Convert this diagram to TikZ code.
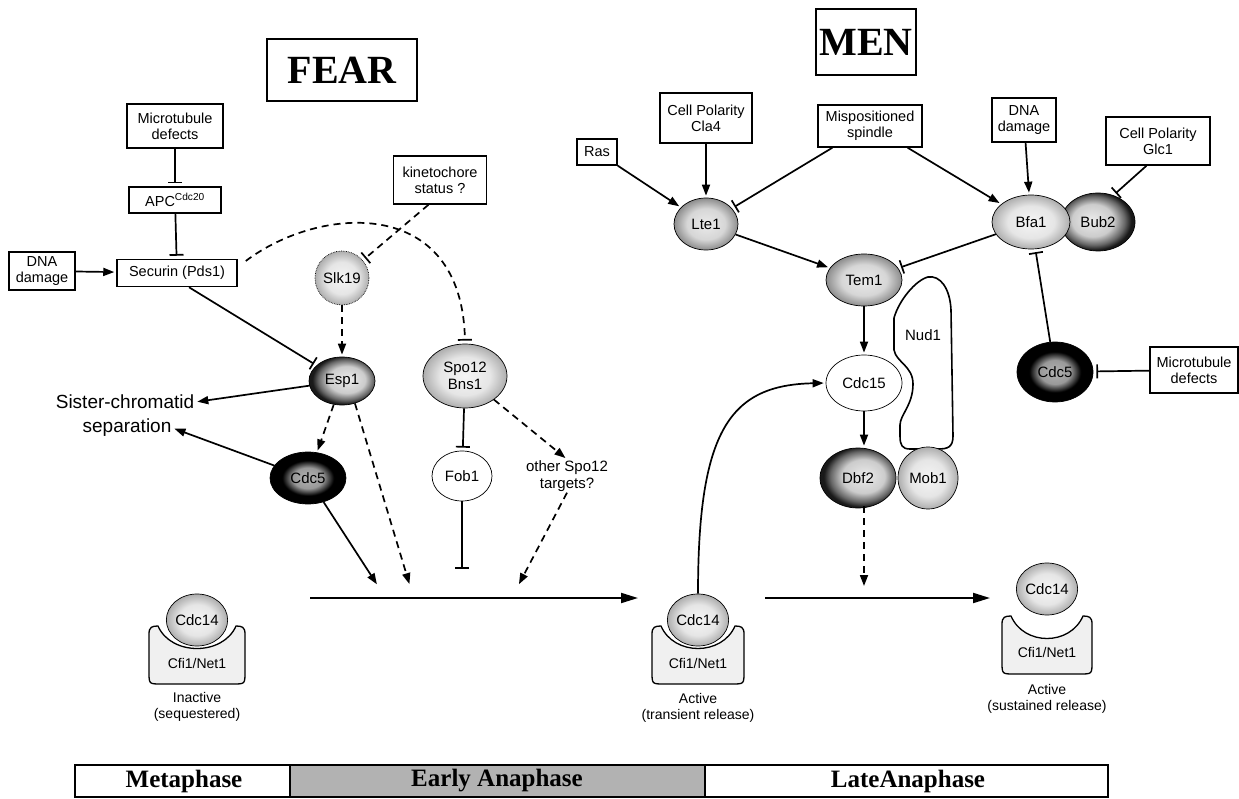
\documentclass[tikz,border=0pt]{standalone}
\usepackage{fontspec}
\setmainfont{Liberation Sans}
\newfontfamily\tmsfont{Liberation Serif}
\usetikzlibrary{shapes.geometric,arrows.meta,calc}

\pgfdeclareradialshading{speck}{\pgfpoint{0bp}{0bp}}{color(0bp)=(black!4); color(15bp)=(black!10); color(25bp)=(black!32); color(50bp)=(black!32)}
\pgfdeclareradialshading{speckdk}{\pgfpoint{0bp}{0bp}}{color(0bp)=(black!8); color(15bp)=(black!16); color(25bp)=(black!45); color(50bp)=(black!45)}
\pgfdeclareradialshading{rimL}{\pgfpoint{5bp}{2bp}}{color(0bp)=(black!8); color(14bp)=(black!20); color(21bp)=(black!60); color(25bp)=(black!90); color(50bp)=(black!90)}
\pgfdeclareradialshading{rimR}{\pgfpoint{-5bp}{2bp}}{color(0bp)=(black!8); color(14bp)=(black!20); color(21bp)=(black!60); color(25bp)=(black!90); color(50bp)=(black!90)}
\pgfdeclareradialshading{ring}{\pgfpoint{0bp}{0bp}}{color(0bp)=(black!30); color(10bp)=(black!40); color(17bp)=(black); color(50bp)=(black)}

\newcommand\fs[2]{\fontsize{#1}{#2}\selectfont}
% cx, top, bottom, halfwidth
\newcommand\cfiblock[4]{%
\draw[line width=1.3pt, fill=black!6] ({#1-#4},{#3-12}) -- ({#1-#4},{#2+8})
 .. controls ({#1-#4},{#2+1}) and ({#1-#4+3},{#2}) .. ({#1-#4+9},{#2})
 .. controls ({#1-#4+22},{#2+30}) and ({#1+#4-22},{#2+30}) .. ({#1+#4-9},{#2})
 .. controls ({#1+#4-3},{#2}) and ({#1+#4},{#2+1}) .. ({#1+#4},{#2+8})
 -- ({#1+#4},{#3-12}) .. controls ({#1+#4},{#3}) .. ({#1+#4-12},{#3})
 -- ({#1-#4+12},{#3}) .. controls ({#1-#4},{#3}) .. ({#1-#4},{#3-12}) -- cycle;}

\begin{document}
\begin{tikzpicture}[x=1pt,y=-1pt,
  bx/.style={draw, line width=1.5pt, fill=white, align=center, font=\fs{14.5}{16}, inner sep=2pt},
  ttl/.style={draw, line width=1.6pt, font=\tmsfont\bfseries\fs{40}{40}},
  prot/.style={ellipse, draw, line width=0.7pt, inner sep=0pt, font=\fs{15}{16.5}, align=center},
  lt/.style={prot, shade, shading=speck},
  ltd/.style={prot, shade, shading=speckdk},
  dkL/.style={prot, shade, shading=rimL},
  dkR/.style={prot, shade, shading=rimR},
  rng/.style={prot, shade, shading=ring},
  wh/.style={prot, fill=white},
  lbl/.style={font=\fs{14}{16}, align=center, inner sep=1pt},
  big/.style={font=\fs{19}{21}, inner sep=1pt},
  arr/.style={line width=1.7pt, -{Triangle[length=11pt,width=8pt]}, shorten >=2pt},
  inh/.style={line width=1.7pt, -{Bar[width=14pt,line width=1.7pt]}, shorten >=3pt},
  dsh/.style={dash pattern=on 7pt off 5pt},
  mainarr/.style={line width=2pt, -{Triangle[length=17pt,width=10pt]}}
]
\useasboundingbox (0,0) rectangle (1239,799);

% ---------- titles
\node[ttl, minimum width=150pt, minimum height=62pt] (fear) at (342,70) {FEAR};
\node[ttl, minimum width=96pt, minimum height=66pt] (men) at (866,42) {MEN};

% ---------- FEAR part
\node[bx, minimum width=96pt, minimum height=44pt] (mt1) at (175,126) {Microtubule\\defects};
\node[bx, minimum width=92pt, minimum height=26pt] (apc) at (175,200) {APC\textsuperscript{Cdc20}};
\node[bx, minimum width=120pt, minimum height=27pt] (sec) at (177,273) {Securin (Pds1)};
\node[bx, minimum width=66pt, minimum height=38pt] (dna1) at (42,271) {DNA\\damage};
\node[bx, minimum width=93pt, minimum height=48pt] (kin) at (440,180) {kinetochore\\status ?};

\node[lt, densely dotted, minimum width=54pt, minimum height=54pt] (slk) at (342,278) {Slk19};
\node[dkL, minimum width=66pt, minimum height=48pt] (esp) at (342,381) {Esp1};
\node[lt, minimum width=84pt, minimum height=64pt] (spo) at (465,376) {Spo12\\Bns1};
\node[rng, minimum width=76pt, minimum height=52pt] (cdc5a) at (308,478) {Cdc5};
\node[wh, minimum width=60pt, minimum height=50pt] (fob) at (462,476) {Fob1};
\node[lbl, font=\fs{15}{17}] (oth) at (567,476) {other Spo12\\targets?};
\node[big] (sis) at (125,402) {Sister-chromatid};
\node[big] (sep) at (127,428) {separation};

\coordinate (ml) at (310,598);
\coordinate (mr) at (638,598);
\coordinate (m1) at (378,586);
\coordinate (m2) at (410,586);
\coordinate (m3) at (462,572);
\coordinate (m4) at (518,586);

\draw[inh] (mt1) -- (apc);
\draw[inh] (apc) -- (sec);
\draw[arr] (dna1) -- (sec);
\draw[inh] ($(sec.south)+(12,0)$) -- (esp);
\draw[arr] (esp) -- (sis.east);
\draw[arr] (cdc5a) -- (sep.east);
\draw[dsh, arr] (slk) -- (esp);
\draw[dsh, inh] (kin.-115) -- (slk);
\draw[dsh, inh] ($(sec.east)+(8,-12)$) .. controls (320,205) and (462,195) .. (spo.north);
\draw[dsh, arr] (esp) -- (cdc5a);
\draw[dsh, arr] (esp.-60) -- (m2);
\draw[arr] (cdc5a) -- (m1);
\draw[inh] (spo) -- (fob);
\draw[dsh, arr] (spo) -- (oth.north);
\draw[inh] (fob) -- (m3);
\draw[dsh, arr] (oth.south) -- (m4);
\draw[mainarr] (ml) -- (mr);

% ---------- Cdc14 complexes
\cfiblock{197}{626}{684}{48}
\node[lt, minimum width=52pt, minimum height=52pt] (cdcL) at (197,620) {Cdc14};
\node[lbl] (cfiL) at (197,663) {Cfi1/Net1};
\node[lbl] (stL) at (197,707) {Inactive\\(sequestered)};

\cfiblock{698}{626}{684}{46}
\node[lt, minimum width=52pt, minimum height=52pt] (cdcM) at (698,620) {Cdc14};
\node[lbl] (cfiM) at (698,663) {Cfi1/Net1};
\node[lbl] (stM) at (698,708) {Active\\(transient release)};

\cfiblock{1047}{616}{674}{45}
\node[lt, minimum width=52pt, minimum height=52pt] (cdcR) at (1047,589) {Cdc14};
\node[lbl] (cfiR) at (1047,652) {Cfi1/Net1};
\node[lbl] (stR) at (1047,699) {Active\\(sustained release)};

% ---------- MEN part
\node[bx, minimum width=40pt, minimum height=26pt] (ras) at (597,152) {Ras};
\node[bx, minimum width=92pt, minimum height=50pt] (cla) at (706,118) {Cell Polarity\\Cla4};
\node[bx, minimum width=104pt, minimum height=42pt] (mis) at (870,126) {Mispositioned\\spindle};
\node[bx, minimum width=64pt, minimum height=44pt] (dna2) at (1024,120) {DNA\\damage};
\node[bx, minimum width=104pt, minimum height=48pt] (glc) at (1158,141) {Cell Polarity\\Glc1};
\node[bx, minimum width=88pt, minimum height=46pt] (mt2) at (1194,370) {Microtubule\\defects};

\node[ltd, minimum width=64pt, minimum height=52pt] (lte) at (706,224) {Lte1};
\node[dkR, minimum width=74pt, minimum height=58pt] (bub) at (1098,222) {Bub2};
\node[lt, minimum width=78pt, minimum height=54pt] (bfa) at (1031,222) {Bfa1};
\node[ltd, minimum width=76pt, minimum height=52pt] (tem) at (864,280) {Tem1};

% Nud1 scaffold
\draw[line width=1.6pt] (894,318) .. controls (899,300) and (916,280) .. (928,277)
  .. controls (940,275) and (950,288) .. (951,310)
  -- (953,436) .. controls (953,447) and (948,449) .. (938,449)
  -- (910,449) .. controls (902,449) and (900,445) .. (900,436)
  -- (900,425) .. controls (900,415) and (913,405) .. (913,384)
  .. controls (913,366) and (896,362) .. (894,350) -- cycle;
\node[font=\fs{15}{16}] (nud) at (923,335) {Nud1};

\node[wh, minimum width=76pt, minimum height=56pt] (cdc15) at (864,383) {Cdc15};
\node[lt, minimum width=60pt, minimum height=62pt] (mob) at (928,478) {Mob1};
\node[dkL, minimum width=76pt, minimum height=60pt] (dbf) at (858,478) {Dbf2};
\node[rng, minimum width=76pt, minimum height=60pt] (cdc5b) at (1055,372) {Cdc5};

\coordinate (ml2) at (765,598);
\coordinate (mr2) at (990,598);
\coordinate (m5) at (864,588);

\draw[arr] (ras) -- (lte);
\draw[arr] (cla) -- (lte);
\draw[inh] (mis.-150) -- (lte);
\draw[arr] (mis.-30) -- (bfa);
\draw[arr] (dna2) -- (bfa);
\draw[inh] (glc.-115) -- (bub.60);
\draw[arr] (lte) -- (tem);
\draw[inh] (bfa) -- (tem);
\draw[arr] (tem) -- (cdc15);
\draw[arr] (cdc15.south) -- (cdc15.south |- dbf.north);
\draw[dsh, arr] ($(dbf.south -| cdc15.south)+(0,-2)$) -- (m5);
\draw[inh] (cdc5b) -- (bfa);
\draw[inh] (mt2) -- (cdc5b);
\draw[arr] (cdcM.north) .. controls (698,430) and (730,385) .. (cdc15.west);
\draw[mainarr] (ml2) -- (mr2);

% ---------- phase bar
\fill[black!30] (290,765) rectangle (705,797);
\draw[line width=2.5pt] (75,765) rectangle (1108,797);
\draw[line width=2pt] (290,765) -- (290,797);
\draw[line width=2pt] (705,765) -- (705,797);
\node[font=\tmsfont\bfseries\fs{25}{25}] (ph1) at (184,781) {Metaphase};
\node[font=\tmsfont\bfseries\fs{25}{25}] (ph2) at (497,781) {Early Anaphase};
\node[font=\tmsfont\bfseries\fs{25}{25}] (ph3) at (908,781) {LateAnaphase};
\end{tikzpicture}
\end{document}
